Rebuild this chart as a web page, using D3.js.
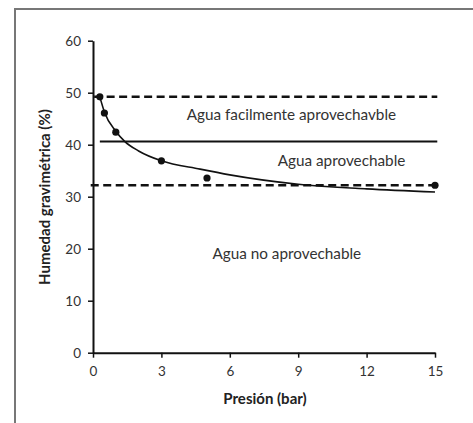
<!DOCTYPE html>
<html><head><meta charset="utf-8">
<script src="https://cdn.jsdelivr.net/npm/d3@7"></script>
<style>body{margin:0;background:#fff}svg{display:block}text{font-family:Lato,"Open Sans",sans-serif}</style>
</head><body>
<script>
const xTicks = [0, 3, 6, 9, 12, 15];
const yTicks = [0, 10, 20, 30, 40, 50, 60];
const points = [[0.3, 49.2], [0.5, 46.1], [1, 42.4], [3, 36.9], [5, 33.6], [15, 32.2]];
const curve = [[0.3, 49.2], [0.5, 46.3], [1, 42.6], [1.4, 40.6], [2, 38.8], [3, 36.9], [4.7, 35.3], [6, 34.2], [9, 32.4], [12, 31.5], [15, 30.9]];
const levels = [
  {name: "cc", y: 49.2, x0: 0.05, x1: 15.1, dash: true},
  {name: "lim", y: 40.6, x0: 0.3, x1: 15.1, dash: false},
  {name: "pmp", y: 32.2, x0: -0.1, x1: 15, dash: true}
];
const labels = [
  {text: "Agua facilmente aprovechavble", x: 8.7, y: 45.4},
  {text: "Agua aprovechable", x: 10.9, y: 36.6},
  {text: "Agua no aprovechable", x: 8.5, y: 18.8}
];
const xTitle = "Presión (bar)";
const yTitle = "Humedad gravimétrica (%)";

const W = 473, H = 423;
const svg = d3.select("body").append("svg").attr("width", W).attr("height", H);
svg.append("path").attr("d", `M15,423 V9 H473`).attr("fill", "none").attr("stroke", "#777").attr("stroke-width", 2);

const x = d3.scaleLinear().domain([0, 15]).range([93, 435]);
const y = d3.scaleLinear().domain([0, 60]).range([352.7, 40.7]);

const xa = svg.append("g").attr("transform", `translate(0,${y(0)})`)
  .call(d3.axisBottom(x).tickValues(xTicks).tickSize(5).tickSizeOuter(0).tickPadding(9));
const ya = svg.append("g").attr("transform", `translate(${x(0)},0)`)
  .call(d3.axisLeft(y).tickValues(yTicks).tickSize(5).tickSizeOuter(0).tickPadding(7));
[xa, ya].forEach(g => {
  g.select(".domain").attr("stroke", "#111").attr("stroke-width", 2);
  g.selectAll(".tick line").attr("stroke", "#111").attr("stroke-width", 1.5);
  g.selectAll(".tick text").attr("fill", "#333").style("font-size", "13.5px").style("font-family", "Lato,sans-serif");
});

svg.selectAll(".lvl").data(levels).join("line").attr("class", "lvl")
  .attr("x1", d => x(d.x0)).attr("x2", d => x(d.x1))
  .attr("y1", d => y(d.y)).attr("y2", d => y(d.y))
  .attr("stroke", "#111").attr("stroke-width", d => d.dash ? 2.5 : 2)
  .attr("stroke-dasharray", d => d.dash ? "8,4.5" : null);

svg.append("path").datum(curve)
  .attr("d", d3.line().x(d => x(d[0])).y(d => y(d[1])).curve(d3.curveMonotoneX))
  .attr("fill", "none").attr("stroke", "#111").attr("stroke-width", 1.6);

svg.selectAll(".pt").data(points).join("circle").attr("class", "pt")
  .attr("cx", d => x(d[0])).attr("cy", d => y(d[1])).attr("r", 3.6).attr("fill", "#111");

svg.selectAll(".lab").data(labels).join("text").attr("class", "lab")
  .attr("x", d => x(d.x)).attr("y", d => y(d.y)).attr("text-anchor", "middle")
  .attr("dominant-baseline", "middle").attr("fill", "#333").style("font-size", "15.3px").text(d => d.text);

svg.append("text").attr("x", 265).attr("y", 400).attr("text-anchor", "middle")
  .attr("dominant-baseline", "middle").attr("fill", "#222").style("font-size", "15px").style("font-weight", "bold").text(xTitle);
svg.append("text").attr("transform", "translate(46,197) rotate(-90)").attr("text-anchor", "middle")
  .attr("dominant-baseline", "middle").attr("fill", "#222").style("font-size", "15px").style("font-weight", "bold").text(yTitle);
</script>
</body></html>
